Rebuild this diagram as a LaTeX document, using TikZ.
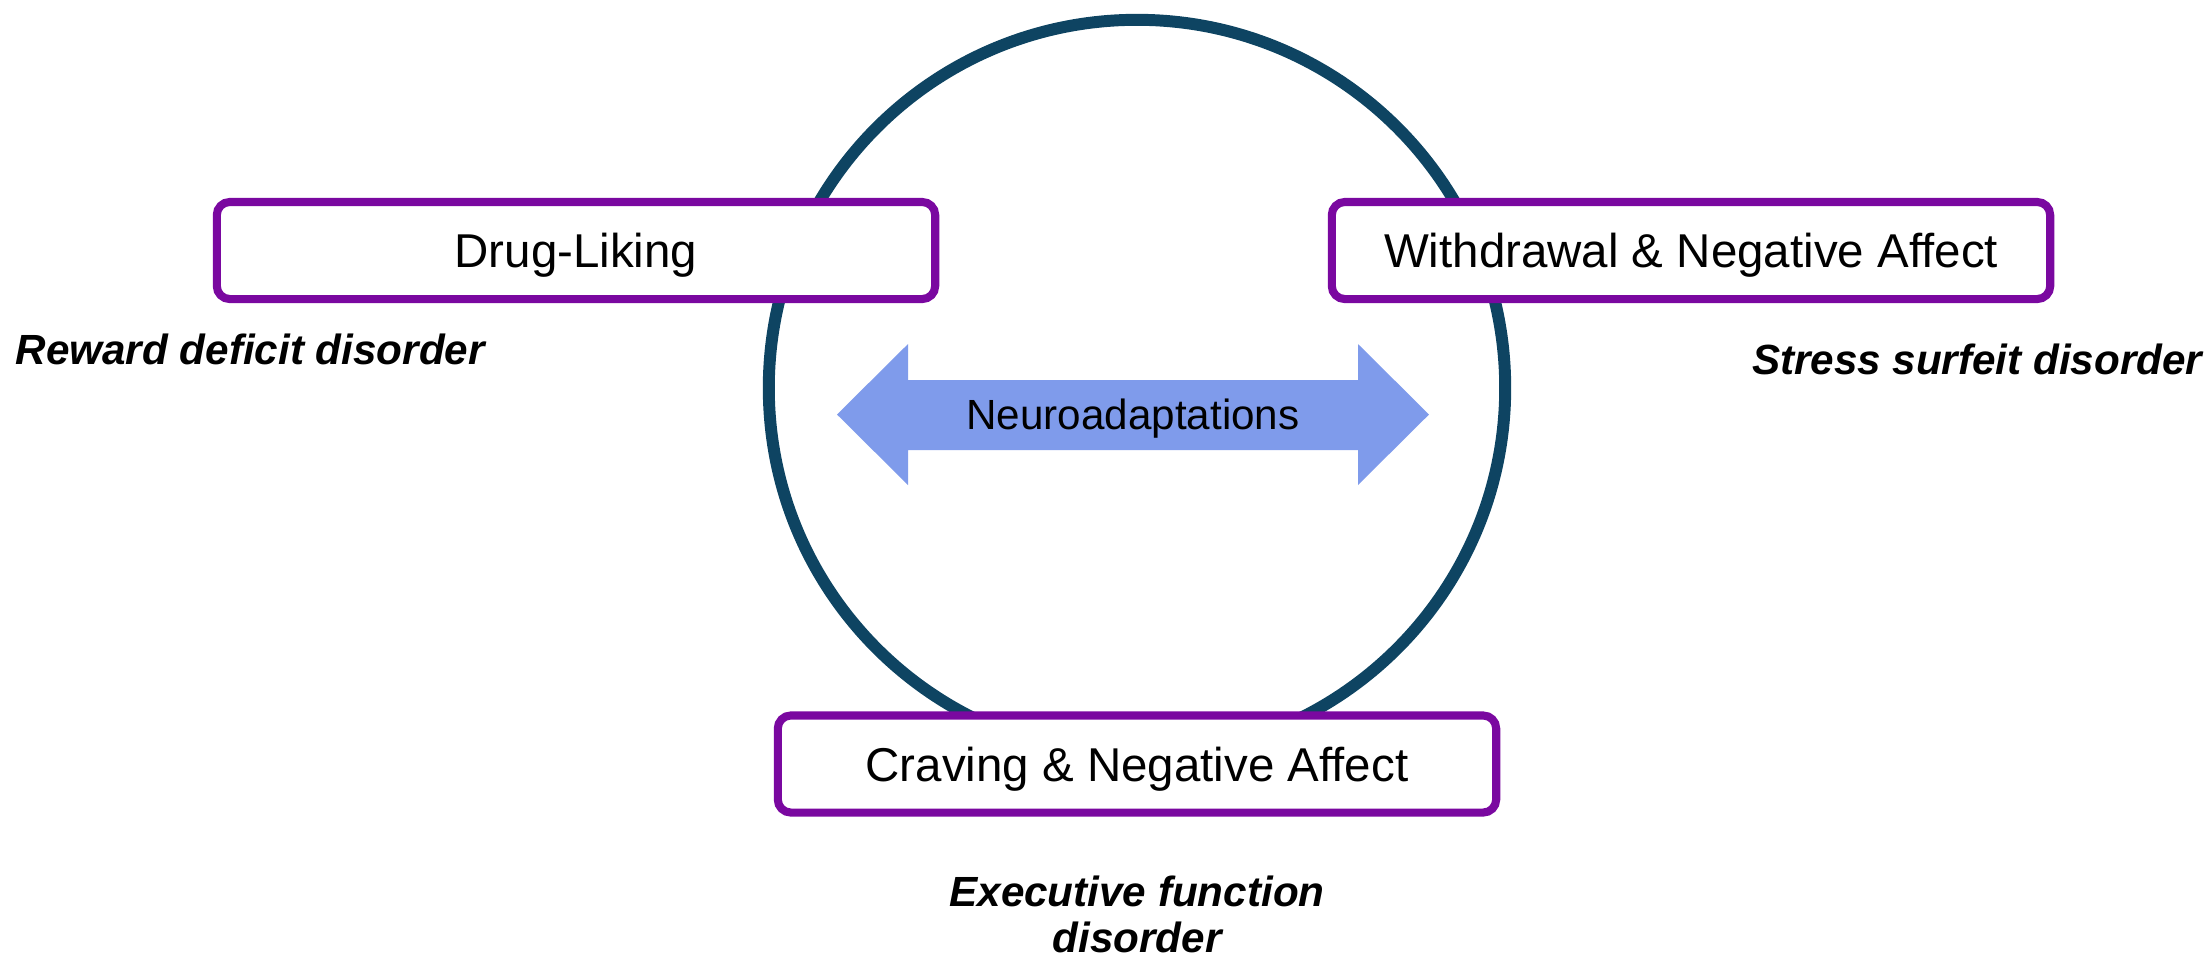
\documentclass[tikz,border=0pt]{standalone}
\usepackage{fontspec}
\setmainfont{Liberation Sans}
\usepackage{xcolor}
\usepackage{tikz}
\usetikzlibrary{positioning}

\definecolor{ringblue}{RGB}{14,68,98}
\definecolor{stagepurple}{RGB}{122,8,160}
\definecolor{neuroblue}{RGB}{127,155,235}

\begin{document}
\begin{tikzpicture}[
  x=0.01cm, y=-0.01cm,
  stagebox/.style={draw=stagepurple, line width=2.3pt, fill=white, rounded corners=0.13cm,
    minimum width=7.18cm, minimum height=0.97cm, inner sep=0pt, text depth=0pt,
    font=\fontsize{13.5}{16}\selectfont},
  disorder/.style={inner sep=0pt, font=\fontsize{12}{13.1}\selectfont\bfseries\itshape},
  ring/.style={draw=ringblue, line width=3.4pt}
]
\useasboundingbox (0,0) rectangle (2211,959);

\draw[ring] (1137,388) circle[radius=3.68cm];

\node[stagebox] (liking) at (576,250.5) {Drug-Liking};
\node[stagebox] (withdrawal) at (1691,250.5) {Withdrawal \& Negative Affect};
\node[stagebox] (craving) at (1137,764) {Craving \& Negative Affect};

% double-headed neuroadaptation arrow
\fill[neuroblue] (837,414.5) -- (908,344) -- (908,380) -- (1358,380) -- (1358,344)
  -- (1429,414.5) -- (1358,485) -- (1358,450) -- (908,450) -- (908,485) -- cycle;
\node[inner sep=0pt, text depth=0pt, font=\fontsize{12}{14}\selectfont] (neuro) at (1133,414.5) {Neuroadaptations};

\node[disorder, anchor=base west] (reward) at (15,364) {Reward deficit disorder};
\node[disorder, anchor=base east] (stress) at (2203,374) {Stress surfeit disorder};
\node[disorder, align=center, anchor=north] (executive) at (1137,875) {Executive function\\disorder};

\end{tikzpicture}
\end{document}
